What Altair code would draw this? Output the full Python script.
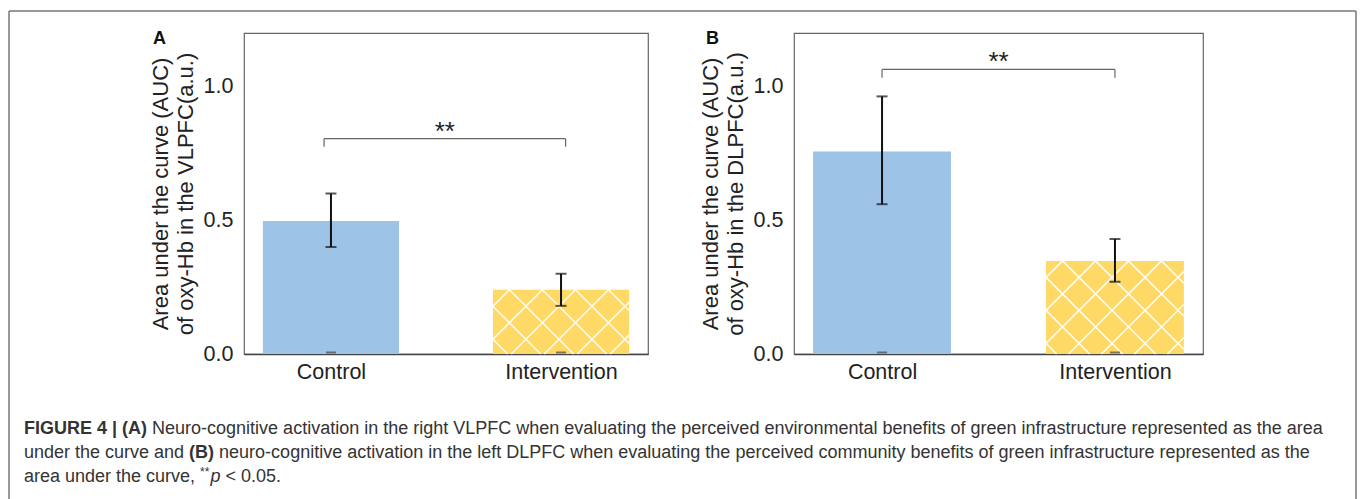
import altair as alt
import pandas as pd

# ---------------- data ----------------
groups = ["Control", "Intervention"]
group_pos = [0, 1]
fill_colors = ["#9DC3E6", "#FFD966"]

auc_vlpfc = [0.497, 0.240]
lo_vlpfc = [0.400, 0.180]
hi_vlpfc = [0.600, 0.300]

auc_dlpfc = [0.757, 0.348]
lo_dlpfc = [0.560, 0.270]
hi_dlpfc = [0.963, 0.430]

bracket_x_A = [-0.03, 1.02]
bracket_y_A = [0.805, 0.775]
bracket_x_B = [0.0, 1.0]
bracket_y_B = [1.064, 1.033]
sig_text = "**"

y_title_A = ["Area under the curve (AUC)", "of oxy-Hb in the VLPFC(a.u.)"]
y_title_B = ["Area under the curve (AUC)", "of oxy-Hb in the DLPFC(a.u.)"]
panel_letters = ["A", "B"]
y_ticks = [0.0, 0.5, 1.0]

caption_l1_bold = "FIGURE 4 | (A)"
caption_l1_rest = ("Neuro-cognitive activation in the right VLPFC when evaluating the perceived "
                   "environmental benefits of green infrastructure represented as the area")
caption_l2_a = "under the curve and"
caption_l2_bold = "(B)"
caption_l2_rest = ("neuro-cognitive activation in the left DLPFC when evaluating the perceived "
                   "community benefits of green infrastructure represented as the")
caption_l3_a = "area under the curve,"
caption_l3_sup = "**"
caption_l3_it = "p"
caption_l3_rest = "< 0.05."

# ---------------- layout constants ----------------
FONT = "Liberation Sans"
PLOT_H = 321
W_A = 404
W_B = 409
GAP = 146
X_DOMAIN = [-0.378, 1.378]
Y_DOMAIN = [0, 1.2]
BAR_HALF = 0.296
HATCH_D = 33.0
CAP_FS = 18
ONE = pd.DataFrame({"k": [0]})

# Arial-compatible advance widths (1/1000 em) for caption segment placement
W_REG = {' ': 278, '(': 333, ')': 333, '*': 389, ',': 278, '-': 333, '.': 278, '0': 556,
         '5': 556, '<': 584, 'a': 556, 'c': 500, 'd': 556, 'e': 556, 'h': 556, 'n': 556,
         'p': 556, 'r': 333, 't': 278, 'u': 556, 'v': 500}
W_BOLD = {'F': 611, 'I': 278, 'G': 778, 'U': 722, 'R': 722, 'E': 667, ' ': 278, '4': 556,
          '|': 280, '(': 333, ')': 333, 'A': 722, 'B': 722}


def twidth(s, table, fs):
    return sum(table.get(c, 556) for c in s) * fs / 1000.0


SP = twidth(" ", W_REG, CAP_FS)


def xenc(field):
    return alt.X(f"{field}:Q",
                 scale=alt.Scale(domain=X_DOMAIN, nice=False, zero=False),
                 axis=alt.Axis(values=group_pos,
                               labelExpr="['" + "','".join(groups) + "'][datum.value]",
                               title=None, labelFontSize=21.5, labelPadding=7,
                               domain=True, domainColor="#444", domainWidth=1.5,
                               ticks=False, grid=False, labelColor="#222", labelFont=FONT))


def yenc(field, title):
    return alt.Y(f"{field}:Q",
                 scale=alt.Scale(domain=Y_DOMAIN, nice=False, zero=True),
                 axis=alt.Axis(values=y_ticks, format=".1f", title=title,
                               labelFontSize=21.5, labelPadding=11, ticks=False, grid=False,
                               domain=False, titleFontSize=22, titleFontWeight="normal",
                               titleLineHeight=25, titlePadding=6, labelColor="#222",
                               titleColor="#222", labelFont=FONT, titleFont=FONT))


def hatch_segments(x_left, x_right, y_top, width_px):
    pxx = width_px / (X_DOMAIN[1] - X_DOMAIN[0])
    pxy = PLOT_H / (Y_DOMAIN[1] - Y_DOMAIN[0])
    w = (x_right - x_left) * pxx
    h = y_top * pxy
    rows = []
    kmin = -int(h / HATCH_D) - 3
    kmax = int(w / HATCH_D) + 3
    for k in range(kmin, kmax):
        x0 = HATCH_D / 2 + k * HATCH_D
        lo, hi = max(0.0, -x0), min(h, w - x0)
        if hi - lo > 0.5:
            rows.append((x0 + lo, lo, x0 + hi, hi))
        lo, hi = max(0.0, x0 - w), min(h, x0)
        if hi - lo > 0.5:
            rows.append((x0 - lo, lo, x0 - hi, hi))
    return pd.DataFrame({
        "hx": [x_left + r[0] / pxx for r in rows],
        "hy": [y_top - r[1] / pxy for r in rows],
        "hx2": [x_left + r[2] / pxx for r in rows],
        "hy2": [y_top - r[3] / pxy for r in rows],
    })


def make_panel(vals, lo, hi, title, letter, width, bx, by, letter_dx):
    df = pd.DataFrame({
        "group": groups, "pos": group_pos, "val": vals, "lo": lo, "hi": hi,
        "color": fill_colors,
    })
    df["x0"] = df["pos"] - BAR_HALF
    df["x1"] = df["pos"] + BAR_HALF
    df["zero"] = 0.0

    bars = alt.Chart(df).mark_rect().encode(
        x=xenc("x0"), x2="x1", y=yenc("zero", title), y2="val",
        color=alt.Color("color:N", scale=None),
    )
    hatch_df = hatch_segments(df["x0"][1], df["x1"][1], df["val"][1], width)
    hatch = alt.Chart(hatch_df).mark_rule(color="white", strokeWidth=1.6, opacity=0.9).encode(
        x=xenc("hx"), x2="hx2", y=yenc("hy", title), y2="hy2")
    base_marks = alt.Chart(df).mark_tick(color="#4a4a4a", orient="horizontal", size=10,
                                         thickness=2, yOffset=-1.5).encode(
        x=xenc("pos"), y=yenc("zero", title))
    err = alt.Chart(df).mark_rule(color="#111", strokeWidth=2).encode(
        x=xenc("pos"), y=yenc("lo", title), y2="hi")
    cap_lo = alt.Chart(df).mark_tick(color="#111", orient="horizontal", size=11, thickness=2).encode(
        x=xenc("pos"), y=yenc("lo", title))
    cap_hi = alt.Chart(df).mark_tick(color="#111", orient="horizontal", size=11, thickness=2).encode(
        x=xenc("pos"), y=yenc("hi", title))

    bdf_h = pd.DataFrame({"bx": [bx[0]], "bx2": [bx[1]], "by": [by[0]]})
    bdf_v = pd.DataFrame({"bx": bx, "by": [by[0], by[0]], "by2": [by[1], by[1]]})
    br_h = alt.Chart(bdf_h).mark_rule(color="#666", strokeWidth=1.2).encode(
        x=xenc("bx"), x2="bx2", y=yenc("by", title))
    br_v = alt.Chart(bdf_v).mark_rule(color="#666", strokeWidth=1.2).encode(
        x=xenc("bx"), y=yenc("by", title), y2="by2")
    sdf = pd.DataFrame({"sx": [(bx[0] + bx[1]) / 2], "sy": [by[0]], "t": [sig_text]})
    stars = alt.Chart(sdf).mark_text(fontSize=26, font=FONT, baseline="alphabetic", dy=1,
                                     color="#222").encode(
        x=xenc("sx"), y=yenc("sy", title), text="t:N")
    let = alt.Chart(ONE).mark_text(text=letter, fontSize=18, fontWeight="bold", font=FONT,
                                   align="left", baseline="alphabetic", color="#111").encode(
        x=alt.value(letter_dx), y=alt.value(10.5))
    return [bars, hatch, base_marks, err, cap_lo, cap_hi, br_h, br_v, stars, let]


layers_A = make_panel(auc_vlpfc, lo_vlpfc, hi_vlpfc, y_title_A, panel_letters[0], W_A,
                      bracket_x_A, bracket_y_A, -91)
layers_B = make_panel(auc_dlpfc, lo_dlpfc, hi_dlpfc, y_title_B, panel_letters[1], W_B,
                      bracket_x_B, bracket_y_B, -88)

# ------------- caption and frame (pixel positions relative to panel A origin) -------------
OX, OY = 243, 32
cx = 23 - OX
l1, l2, l3 = 428 - OY, 452 - OY, 476 - OY


def ctext(txt, x, y, weight="normal", style="normal", size=CAP_FS, dy=0, baseline="middle"):
    return alt.Chart(ONE).mark_text(text=txt, font=FONT, fontSize=size, fontWeight=weight,
                                    fontStyle=style, align="left", baseline=baseline,
                                    color="#333", dy=dy).encode(
        x=alt.value(x), y=alt.value(y))


cap = []
cap.append(ctext(caption_l1_bold, cx, l1, weight="bold"))
cap.append(ctext(caption_l1_rest, cx + twidth(caption_l1_bold, W_BOLD, CAP_FS) + SP, l1))
cap.append(ctext(caption_l2_a, cx, l2))
x2b = cx + twidth(caption_l2_a, W_REG, CAP_FS) + SP
cap.append(ctext(caption_l2_bold, x2b, l2, weight="bold"))
cap.append(ctext(caption_l2_rest, x2b + twidth(caption_l2_bold, W_BOLD, CAP_FS) + SP, l2))
cap.append(ctext(caption_l3_a, cx, l3))
x3s = cx + twidth(caption_l3_a, W_REG, CAP_FS) + SP
cap.append(ctext(caption_l3_sup, x3s, l3, size=12, dy=-5))
x3p = x3s + twidth(caption_l3_sup, W_REG, 12) + 1
cap.append(ctext(caption_l3_it, x3p, l3, style="italic"))
x3r = x3p + twidth(caption_l3_it, W_REG, CAP_FS) + SP
cap.append(ctext(caption_l3_rest, x3r, l3))

FL, FR, FT, FB = 8 - OX, 1355 - OX, 10 - OY, 498 - OY
frame = [
    alt.Chart(ONE).mark_rule(color="#777", strokeWidth=1.5).encode(
        x=alt.value(FL), x2=alt.value(FR), y=alt.value(FT)),
    alt.Chart(ONE).mark_rule(color="#777", strokeWidth=1.5).encode(
        x=alt.value(FL), y=alt.value(FT), y2=alt.value(FB)),
    alt.Chart(ONE).mark_rule(color="#777", strokeWidth=1.5).encode(
        x=alt.value(FR), y=alt.value(FT), y2=alt.value(FB)),
]

panel_A = alt.layer(*(layers_A + cap + frame)).properties(width=W_A, height=PLOT_H)
panel_B = alt.layer(*layers_B).properties(width=W_B, height=PLOT_H)

chart = alt.hconcat(panel_A, panel_B, spacing=GAP, bounds="flush").properties(
    padding={"left": 7, "top": 9, "right": 0, "bottom": 0},
    background="white",
).configure_view(stroke="#666", strokeWidth=1.2)

chart.save("out.html", embed_options={"renderer": "svg", "actions": False})
